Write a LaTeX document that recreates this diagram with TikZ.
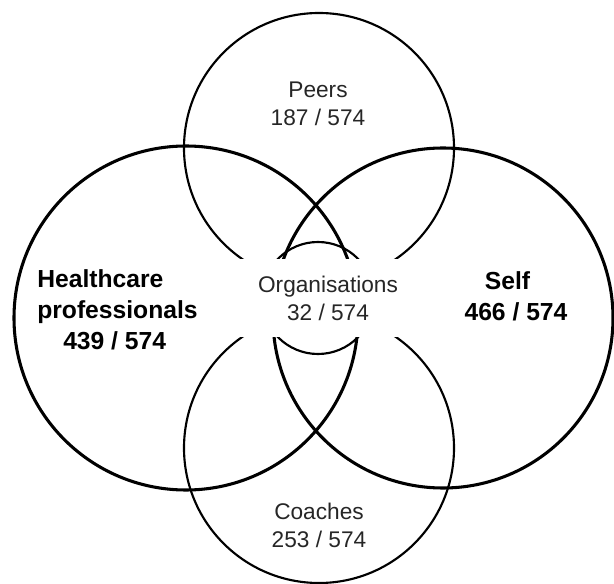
\documentclass[tikz,border=0pt]{standalone}
\usepackage{fontspec}
\setmainfont{Liberation Sans}
\usetikzlibrary{positioning}
\tikzstyle{venn}=[x=0.75pt,y=-0.75pt]
\tikzstyle{bigset}=[circle,draw=black,line width=2.3pt,inner sep=0pt]
\tikzstyle{smallset}=[circle,draw=black,line width=1.6pt,inner sep=0pt]
\tikzstyle{lbl}=[align=center,inner sep=0pt,text=black!85,font=\fontsize{17}{21}\selectfont]
\tikzstyle{blbl}=[inner sep=0pt,font=\fontsize{18.5}{23.25}\selectfont\bfseries]

\begin{document}
\begin{tikzpicture}[venn]
  \useasboundingbox (0,0) rectangle (614,584);
  \node[smallset,minimum size=202.5pt] (c_peers) at (319,148) {};
  \node[smallset,minimum size=202.5pt] (c_coach) at (319,448) {};
  \node[bigset,minimum size=258pt] (c_hc) at (186,318) {};
  \node[bigset,minimum size=255pt] (c_self) at (443,318) {};
  \node[smallset,minimum size=84pt] (c_org) at (318,298) {};
  \node[lbl,fill=white,minimum width=168pt,minimum height=58.5pt] (l_org) at (328,298) {Organisations\\32 / 574};
  \node[lbl] (l_peers) at (318,104) {Peers\\187 / 574};
  \node[lbl] (l_coach) at (319,525) {Coaches\\253 / 574};
  \node[blbl,align=left,anchor=west] (l_hc) at (37,310) {Healthcare\\professionals\\\hspace*{19.5pt}439 / 574};
  \node[blbl,align=center] (l_self) at (516,296) {Self\hspace*{12.75pt}\\466 / 574};
\end{tikzpicture}
\end{document}
